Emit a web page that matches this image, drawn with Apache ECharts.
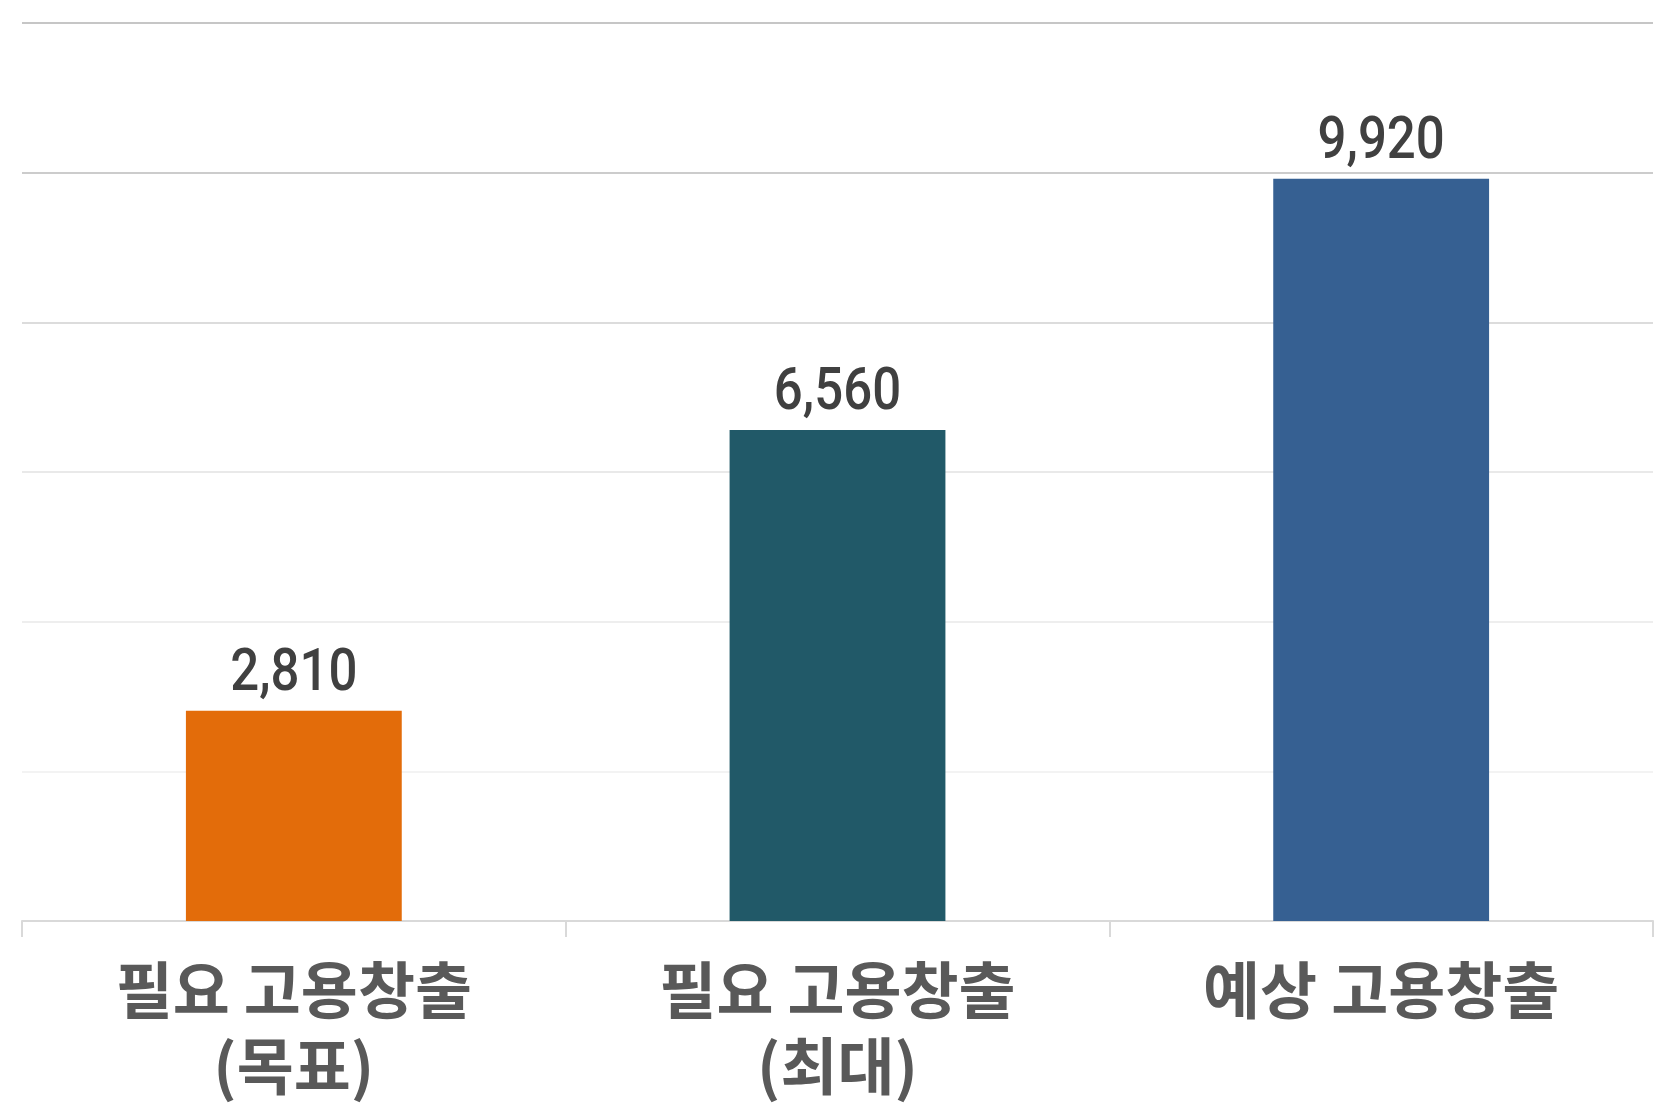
<!DOCTYPE html>
<html>
<head>
<meta charset="utf-8">
<script src="https://cdn.jsdelivr.net/npm/echarts@6/dist/echarts.min.js"></script>
<style>
    html, body {margin: 0; padding: 0; background: #fff;}
    #box {width: 1676px; height: 1119px;}
</style>
</head>
<body>
<div id="box"></div>
<script>
//数据
var categories = ['필요 고용창출\n(목표)', '필요 고용창출\n(최대)', '예상 고용창출'];
var values = [2810, 6560, 9920];
var barColors = ['#E36C0A', '#215968', '#366092'];

//网格线颜色（从下往上逐渐变深）
var gridColors = ['#d9d9d9', '#f3f3f3', '#eeeeee', '#e9e9e9', '#dcdcdc', '#cccccc', '#c6c6c6'];

var barData = [];
var labelData = [];
values.forEach(function (v, i) {
    barData.push({value: v, itemStyle: {color: barColors[i]}});
    labelData.push([i, v]);
});

var myChart = echarts.init(document.getElementById('box'));

//数值标签：窄体字，用 scaleX 压窄
var renderLabel = function (params, api) {
    var pt = api.coord([api.value(0), api.value(1)]);
    return {
        type: 'text',
        x: pt[0],
        y: pt[1] - 6,
        scaleX: 0.85,
        z2: 10,
        style: {
            x: 0,
            y: 0,
            text: api.value(1).toLocaleString('en-US'),
            fill: '#404040',
            font: '500 60px Roboto',
            align: 'center',
            textAlign: 'center',
            verticalAlign: 'bottom',
            textVerticalAlign: 'bottom'
        }
    };
};

var option = {
    animation: false,
    grid: {
        left: 22,
        right: 23,
        top: 23,
        bottom: 198,
        containLabel: false
    },
    xAxis: {
        type: 'category',
        data: categories,
        axisLine: {show: true, lineStyle: {color: '#d9d9d9', width: 2}},
        axisTick: {show: true, length: 16, lineStyle: {color: '#d9d9d9', width: 2}},
        axisLabel: {
            margin: 31,
            color: '#595959',
            fontSize: 62,
            fontWeight: 'bold',
            lineHeight: 76,
            fontFamily: '"Noto Sans CJK KR", sans-serif'
        }
    },
    yAxis: {
        type: 'value',
        min: 0,
        max: 12000,
        interval: 2000,
        axisLabel: {show: false},
        axisLine: {show: false},
        axisTick: {show: false},
        splitLine: {lineStyle: {color: gridColors, width: 2}}
    },
    series: [{
        type: 'bar',
        data: barData,
        barWidth: '39.7%'
    }, {
        type: 'custom',
        data: labelData,
        renderItem: renderLabel,
        silent: true,
        z: 5
    }]
};

myChart.setOption(option);
</script>
</body>
</html>
